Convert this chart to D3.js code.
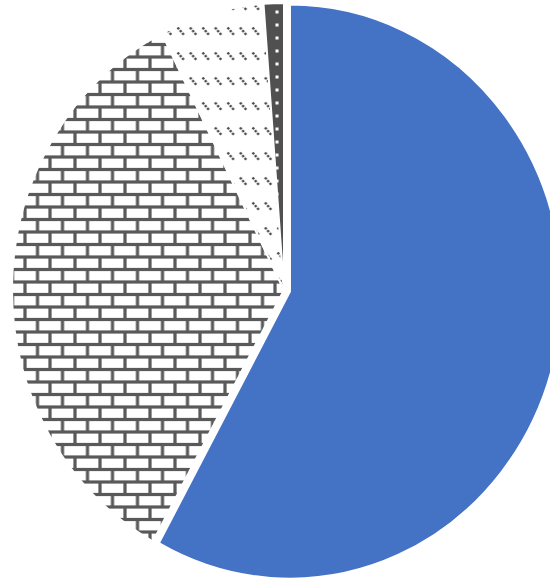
<!DOCTYPE html>
<html>
<head>
<meta charset="utf-8">
<script src="https://cdn.jsdelivr.net/npm/d3@7"></script>
<style>
  body { margin: 0; background: #fff; }
</style>
</head>
<body>
<svg id="chart"></svg>
<script>
// Slice data (share of total, %), clockwise from 12 o'clock
const categories = ["Series A", "Series B", "Series C", "Series D"];
const values = [58.0, 34.6, 6.2, 1.2];
const fills = ["#4472c4", "url(#brick)", "url(#wave)", "url(#dots)"];

const width = 550;
const height = 582;
const svg = d3.select("#chart")
    .attr("width", width)
    .attr("height", height);

// The pie in the picture is squeezed horizontally, so draw a circle and scale x
const cx = 284, cy = 290;
const ry = 287, rx = 272;
const sx = rx / ry;
const explode = 6.5; // first slice is pulled out a little

const defs = svg.append("defs");
// patterns are drawn in page pixels, undo the group's squeeze
const fix = `translate(${-cx / sx},${-cy}) scale(${1 / sx},1)`;
const ink = "#595959";

// Horizontal brick
const brick = defs.append("pattern")
    .attr("id", "brick")
    .attr("patternUnits", "userSpaceOnUse")
    .attr("width", 25).attr("height", 25)
    .attr("patternTransform", fix);
brick.append("rect").attr("width", 25).attr("height", 25).attr("fill", "#fff");
[[0, 7, 25, 7], [0, 19.5, 25, 19.5],
 [0, 7, 0, 19.5], [25, 7, 25, 19.5],
 [12.5, 19.5, 12.5, 25], [12.5, 0, 12.5, 7]].forEach(l => {
    brick.append("line")
        .attr("x1", l[0]).attr("y1", l[1]).attr("x2", l[2]).attr("y2", l[3])
        .attr("stroke", ink).attr("stroke-width", 3.2);
});

// Dashed downward diagonal
const wave = defs.append("pattern")
    .attr("id", "wave")
    .attr("patternUnits", "userSpaceOnUse")
    .attr("width", 12.5).attr("height", 25)
    .attr("patternTransform", fix);
wave.append("rect").attr("width", 12.5).attr("height", 25).attr("fill", "#fff");
wave.append("line")
    .attr("x1", 2.5).attr("y1", 2.5).attr("x2", 9).attr("y2", 10)
    .attr("stroke", "#4a4a4a").attr("stroke-width", 2.4)
    .attr("stroke-dasharray", "2.4 1.2");

// Dark fill with small white squares
const dots = defs.append("pattern")
    .attr("id", "dots")
    .attr("patternUnits", "userSpaceOnUse")
    .attr("width", 25).attr("height", 13)
    .attr("patternTransform", fix);
dots.append("rect").attr("width", 25).attr("height", 13).attr("fill", "#505050");
dots.append("rect").attr("x", 0.5).attr("y", 10.5).attr("width", 3).attr("height", 3).attr("fill", "#fff");
dots.append("rect").attr("x", 0.5).attr("y", -2.5).attr("width", 3).attr("height", 3).attr("fill", "#fff");

const pie = d3.pie().sort(null).value(d => d);
const arc = d3.arc().innerRadius(0).outerRadius(ry);

const g = svg.append("g")
    .attr("transform", `translate(${cx},${cy}) scale(${sx},1)`);

g.selectAll("path")
    .data(pie(values))
    .join("path")
    .attr("d", arc)
    .attr("fill", (d, i) => fills[i])
    .attr("stroke", "#fff")
    .attr("stroke-width", 2)
    .attr("vector-effect", "non-scaling-stroke")
    .attr("transform", (d, i) => {
        if (i !== 0) return null;
        const a = (d.startAngle + d.endAngle) / 2;
        return `translate(${Math.sin(a) * explode},${-Math.cos(a) * explode})`;
    })
    .append("title")
    .text((d, i) => `${categories[i]}: ${values[i]}%`);
</script>
</body>
</html>
